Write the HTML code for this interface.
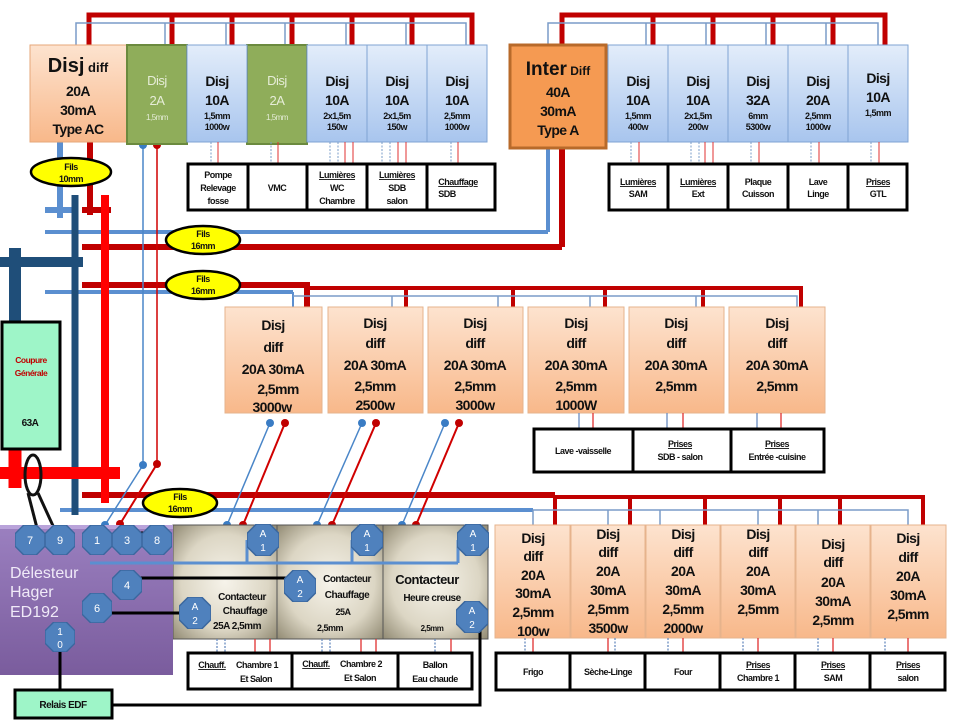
<!DOCTYPE html>
<html><head><meta charset="utf-8"><style>
body{margin:0;background:#fff}
svg{display:block}
text{font-family:"Liberation Sans",sans-serif;font-weight:bold;text-anchor:middle;fill:#111}
.s{font-size:9px;letter-spacing:-0.5px}
.m{font-size:13px;letter-spacing:-0.5px}
.l{font-size:14px;letter-spacing:-0.6px}
</style></head><body>
<svg width="960" height="720" viewBox="0 0 960 720">
<defs>
<linearGradient id="or" x1="0" y1="0" x2="0" y2="1"><stop offset="0" stop-color="#fde3cf"/><stop offset="1" stop-color="#f8b88a"/></linearGradient>
<linearGradient id="bl" x1="0" y1="0" x2="0" y2="1"><stop offset="0" stop-color="#e3edfa"/><stop offset="1" stop-color="#a8c5ee"/></linearGradient>
<linearGradient id="pu" x1="0" y1="0" x2="0" y2="1"><stop offset="0" stop-color="#9b80c0"/><stop offset="1" stop-color="#7a5c9d"/></linearGradient>
<radialGradient id="be" cx="0.5" cy="0.5" r="0.7"><stop offset="0" stop-color="#f6f3ea"/><stop offset="0.6" stop-color="#dcd6c4"/><stop offset="1" stop-color="#928b74"/></radialGradient>
<symbol id="oct" viewBox="-16 -16 32 32"><polygon points="-6.6,-16 6.6,-16 16,-6.6 16,6.6 6.6,16 -6.6,16 -16,6.6 -16,-6.6" fill="#4f81bd" stroke="#3a679e" stroke-width="1.5"/></symbol>
</defs>

<polyline points="89,45 89,15 472,15 472,45" fill="none" stroke="#c00000" stroke-width="5"/>
<g stroke="#c00000" stroke-width="5"><line x1="172" y1="15" x2="172" y2="45"/><line x1="232" y1="15" x2="232" y2="45"/><line x1="292" y1="15" x2="292" y2="45"/><line x1="352" y1="15" x2="352" y2="45"/><line x1="412" y1="15" x2="412" y2="45"/></g>
<polyline points="76,45 76,23 466,23 466,45" fill="none" stroke="#7a9cc8" stroke-width="1.5"/>
<g stroke="#7a9cc8" stroke-width="1.5"><line x1="165" y1="23" x2="165" y2="45"/><line x1="226" y1="23" x2="226" y2="45"/><line x1="285" y1="23" x2="285" y2="45"/><line x1="346" y1="23" x2="346" y2="45"/><line x1="406" y1="23" x2="406" y2="45"/></g>
<polyline points="562,45 562,15 885,15 885,45" fill="none" stroke="#c00000" stroke-width="5"/>
<g stroke="#c00000" stroke-width="5"><line x1="653" y1="15" x2="653" y2="45"/><line x1="713" y1="15" x2="713" y2="45"/><line x1="773" y1="15" x2="773" y2="45"/><line x1="833" y1="15" x2="833" y2="45"/></g>
<polyline points="548,45 548,23 878,23 878,45" fill="none" stroke="#7a9cc8" stroke-width="1.5"/>
<g stroke="#7a9cc8" stroke-width="1.5"><line x1="646" y1="23" x2="646" y2="45"/><line x1="706" y1="23" x2="706" y2="45"/><line x1="766" y1="23" x2="766" y2="45"/><line x1="826" y1="23" x2="826" y2="45"/></g>

<line x1="60" y1="142" x2="60" y2="218" stroke="#5b8fd0" stroke-width="6"/>
<line x1="45" y1="210" x2="76" y2="210" stroke="#5b8fd0" stroke-width="6"/>
<line x1="90" y1="142" x2="90" y2="215" stroke="#c00000" stroke-width="6"/>
<line x1="82" y1="210" x2="111" y2="210" stroke="#c00000" stroke-width="6"/>
<line x1="45" y1="232" x2="548" y2="232" stroke="#5b8fd0" stroke-width="4"/>
<line x1="548" y1="142" x2="548" y2="232" stroke="#5b8fd0" stroke-width="4"/>
<line x1="82" y1="247" x2="562" y2="247" stroke="#c00000" stroke-width="6"/>
<line x1="562" y1="142" x2="562" y2="247" stroke="#c00000" stroke-width="6"/>
<line x1="45" y1="292" x2="293" y2="292" stroke="#5b8fd0" stroke-width="4"/>
<polyline points="82,285 307,285 307,307" fill="none" stroke="#c00000" stroke-width="6"/>
<line x1="293" y1="292" x2="293" y2="307" stroke="#5b8fd0" stroke-width="2"/>
<line x1="60" y1="510" x2="533" y2="510" stroke="#5b8fd0" stroke-width="4"/>
<line x1="82" y1="495" x2="555" y2="495" stroke="#c00000" stroke-width="6"/>
<line x1="75" y1="195" x2="75" y2="515" stroke="#1f4e79" stroke-width="7"/>
<line x1="15" y1="248" x2="15" y2="322" stroke="#1f4e79" stroke-width="12"/>
<line x1="0" y1="262" x2="83" y2="262" stroke="#1f4e79" stroke-width="10"/>
<line x1="105" y1="195" x2="105" y2="503" stroke="#ff0000" stroke-width="8"/>
<line x1="0" y1="473" x2="120" y2="473" stroke="#ff0000" stroke-width="12"/>
<line x1="15" y1="450" x2="15" y2="488" stroke="#ff0000" stroke-width="13"/>
<ellipse cx="33" cy="475" rx="8" ry="20" fill="none" stroke="#111" stroke-width="3"/>
<line x1="28" y1="493" x2="37" y2="528" stroke="#111" stroke-width="3"/>
<line x1="38" y1="493" x2="54" y2="528" stroke="#111" stroke-width="3"/>

<line x1="143" y1="145" x2="143" y2="465" stroke="#4a86c8" stroke-width="1.5"/>
<line x1="157" y1="145" x2="157" y2="464" stroke="#d00000" stroke-width="1.5"/>
<line x1="143" y1="465" x2="105" y2="525" stroke="#4a86c8" stroke-width="1.5"/>
<line x1="157" y1="464" x2="120" y2="524" stroke="#d00000" stroke-width="2"/>
<g><circle cx="143" cy="145" r="4" fill="#3a7cc4"/><circle cx="157" cy="145" r="4" fill="#c00000"/><circle cx="143" cy="465" r="4" fill="#3a7cc4"/><circle cx="157" cy="464" r="4" fill="#c00000"/><circle cx="105" cy="525" r="4" fill="#3a7cc4"/><circle cx="120" cy="524" r="4" fill="#c00000"/></g>

<rect x="30" y="45" width="97" height="97" fill="url(#or)" stroke="#e6a77a"/>
<text x="78" y="72"><tspan font-size="20">Disj</tspan><tspan font-size="13"> diff</tspan></text>
<text x="78" y="96" class="l">20A</text><text x="78" y="115" class="l">30mA</text><text x="78" y="134" class="l">Type AC</text>
<rect x="127" y="45" width="60" height="99" fill="#8fad5a" stroke="#6b8a3e" stroke-width="2"/>
<text x="157" y="85" class="m" style="fill:#e6edd8;font-weight:normal">Disj</text><text x="157" y="105" class="m" style="fill:#e6edd8;font-weight:normal">2A</text><text x="157" y="120" class="s" style="fill:#e6edd8;font-weight:normal;font-size:8px">1,5mm</text>
<rect x="247" y="45" width="60" height="99" fill="#8fad5a" stroke="#6b8a3e" stroke-width="2"/>
<text x="277" y="85" class="m" style="fill:#e6edd8;font-weight:normal">Disj</text><text x="277" y="105" class="m" style="fill:#e6edd8;font-weight:normal">2A</text><text x="277" y="120" class="s" style="fill:#e6edd8;font-weight:normal;font-size:8px">1,5mm</text>
<g stroke="#7fa3d3"><rect x="187" y="45" width="60" height="97" fill="url(#bl)"/><rect x="307" y="45" width="60" height="97" fill="url(#bl)"/><rect x="367" y="45" width="60" height="97" fill="url(#bl)"/><rect x="427" y="45" width="60" height="97" fill="url(#bl)"/></g>
<text x="217" y="86" class="l">Disj</text><text x="217" y="105" class="l">10A</text><text x="217" y="119" class="s">1,5mm</text><text x="217" y="130" class="s">1000w</text>
<text x="337" y="86" class="l">Disj</text><text x="337" y="105" class="l">10A</text><text x="337" y="119" class="s">2x1,5m</text><text x="337" y="130" class="s">150w</text>
<text x="397" y="86" class="l">Disj</text><text x="397" y="105" class="l">10A</text><text x="397" y="119" class="s">2x1,5m</text><text x="397" y="130" class="s">150w</text>
<text x="457" y="86" class="l">Disj</text><text x="457" y="105" class="l">10A</text><text x="457" y="119" class="s">2,5mm</text><text x="457" y="130" class="s">1000w</text>

<rect x="510" y="45" width="96" height="103" fill="#f59a52" stroke="#b86a2a" stroke-width="3"/>
<text x="558" y="75"><tspan font-size="19">Inter</tspan><tspan font-size="12"> Diff</tspan></text>
<text x="558" y="97" class="l">40A</text><text x="558" y="116" class="l">30mA</text><text x="558" y="135" class="l">Type A</text>
<g stroke="#7fa3d3"><rect x="608" y="45" width="60" height="97" fill="url(#bl)"/><rect x="668" y="45" width="60" height="97" fill="url(#bl)"/><rect x="728" y="45" width="60" height="97" fill="url(#bl)"/><rect x="788" y="45" width="60" height="97" fill="url(#bl)"/><rect x="848" y="45" width="60" height="97" fill="url(#bl)"/></g>
<text x="638" y="86" class="l">Disj</text><text x="638" y="105" class="l">10A</text><text x="638" y="119" class="s">1,5mm</text><text x="638" y="130" class="s">400w</text>
<text x="698" y="86" class="l">Disj</text><text x="698" y="105" class="l">10A</text><text x="698" y="119" class="s">2x1,5m</text><text x="698" y="130" class="s">200w</text>
<text x="758" y="86" class="l">Disj</text><text x="758" y="105" class="l">32A</text><text x="758" y="119" class="s">6mm</text><text x="758" y="130" class="s">5300w</text>
<text x="818" y="86" class="l">Disj</text><text x="818" y="105" class="l">20A</text><text x="818" y="119" class="s">2,5mm</text><text x="818" y="130" class="s">1000w</text>
<text x="878" y="83" class="l">Disj</text><text x="878" y="102" class="l">10A</text><text x="878" y="116" class="s">1,5mm</text>

<g stroke="#7a9cc8" stroke-dasharray="2,1.5"><line x1="211" y1="142" x2="211" y2="163"/><line x1="271" y1="142" x2="271" y2="163"/><line x1="330" y1="142" x2="330" y2="163"/><line x1="338" y1="142" x2="338" y2="163"/><line x1="382" y1="142" x2="382" y2="163"/><line x1="390" y1="142" x2="390" y2="163"/><line x1="451" y1="142" x2="451" y2="163"/>
<line x1="631" y1="142" x2="631" y2="163"/><line x1="691" y1="142" x2="691" y2="163"/><line x1="699" y1="142" x2="699" y2="163"/><line x1="751" y1="142" x2="751" y2="163"/><line x1="811" y1="142" x2="811" y2="163"/><line x1="871" y1="142" x2="871" y2="163"/></g>
<g stroke="#e03030"><line x1="218" y1="142" x2="218" y2="163"/><line x1="278" y1="142" x2="278" y2="163"/><line x1="345" y1="142" x2="345" y2="163"/><line x1="353" y1="142" x2="353" y2="163"/><line x1="398" y1="142" x2="398" y2="163"/><line x1="406" y1="142" x2="406" y2="163"/><line x1="458" y1="142" x2="458" y2="163"/>
<line x1="639" y1="142" x2="639" y2="163"/><line x1="705" y1="142" x2="705" y2="163"/><line x1="713" y1="142" x2="713" y2="163"/><line x1="759" y1="142" x2="759" y2="163"/><line x1="819" y1="142" x2="819" y2="163"/><line x1="879" y1="142" x2="879" y2="163"/></g>

<g fill="#fff" stroke="#000" stroke-width="3"><rect x="188" y="164" width="307" height="46"/><rect x="609" y="164" width="298" height="46"/></g>
<g stroke="#000" stroke-width="3"><line x1="248" y1="164" x2="248" y2="210"/><line x1="307" y1="164" x2="307" y2="210"/><line x1="367" y1="164" x2="367" y2="210"/><line x1="427" y1="164" x2="427" y2="210"/>
<line x1="668" y1="164" x2="668" y2="210"/><line x1="728" y1="164" x2="728" y2="210"/><line x1="788" y1="164" x2="788" y2="210"/><line x1="848" y1="164" x2="848" y2="210"/></g>
<g>
<text x="218" y="178" class="s">Pompe</text><text x="218" y="191" class="s">Relevage</text><text x="218" y="204" class="s">fosse</text>
<text x="277" y="191" class="s">VMC</text>
<text x="337" y="178" class="s" text-decoration="underline">Lumières</text><text x="337" y="191" class="s">WC</text><text x="337" y="204" class="s">Chambre</text>
<text x="397" y="178" class="s" text-decoration="underline">Lumières</text><text x="397" y="191" class="s">SDB</text><text x="397" y="204" class="s">salon</text>
<text x="458" y="185" class="s" text-decoration="underline">Chauffage</text><text x="447" y="197" class="s">SDB</text>
<text x="638" y="185" class="s" text-decoration="underline">Lumières</text><text x="638" y="197" class="s">SAM</text>
<text x="698" y="185" class="s" text-decoration="underline">Lumières</text><text x="698" y="197" class="s">Ext</text>
<text x="758" y="185" class="s">Plaque</text><text x="758" y="197" class="s">Cuisson</text>
<text x="818" y="185" class="s">Lave</text><text x="818" y="197" class="s">Linge</text>
<text x="878" y="185" class="s" text-decoration="underline">Prises</text><text x="878" y="197" class="s">GTL</text>
</g>

<polyline points="307,288 801,288 801,307" fill="none" stroke="#c00000" stroke-width="4"/>
<g stroke="#c00000" stroke-width="4"><line x1="406" y1="288" x2="406" y2="307"/><line x1="513" y1="288" x2="513" y2="307"/><line x1="605" y1="288" x2="605" y2="307"/><line x1="703" y1="288" x2="703" y2="307"/></g>
<polyline points="293,296 797,296 797,307" fill="none" stroke="#7a9cc8" stroke-width="1.5"/>
<g stroke="#7a9cc8" stroke-width="1.5"><line x1="392" y1="296" x2="392" y2="307"/><line x1="498" y1="296" x2="498" y2="307"/><line x1="590" y1="296" x2="590" y2="307"/><line x1="696" y1="296" x2="696" y2="307"/></g>
<g fill="url(#or)" stroke="#e6b38c"><rect x="225" y="307" width="97" height="106"/><rect x="328" y="307" width="95" height="106"/><rect x="428" y="307" width="95" height="106"/><rect x="528" y="307" width="96" height="106"/><rect x="629" y="307" width="95" height="106"/><rect x="729" y="307" width="96" height="106"/></g>
<g>
<text x="273" y="330" class="l">Disj</text><text x="273" y="352" class="l">diff</text><text x="273" y="374" class="l">20A  30mA</text><text x="278" y="394" class="l">2,5mm</text><text x="272" y="412" class="l">3000w</text>
<text x="375" y="328" class="l">Disj</text><text x="375" y="348" class="l">diff</text><text x="375" y="370" class="l">20A  30mA</text><text x="375" y="391" class="l">2,5mm</text><text x="375" y="410" class="l">2500w</text>
<text x="475" y="328" class="l">Disj</text><text x="475" y="348" class="l">diff</text><text x="475" y="370" class="l">20A 30mA</text><text x="475" y="391" class="l">2,5mm</text><text x="475" y="410" class="l">3000w</text>
<text x="576" y="328" class="l">Disj</text><text x="576" y="348" class="l">diff</text><text x="576" y="370" class="l">20A 30mA</text><text x="576" y="391" class="l">2,5mm</text><text x="576" y="410" class="l">1000W</text>
<text x="676" y="328" class="l">Disj</text><text x="676" y="348" class="l">diff</text><text x="676" y="370" class="l">20A  30mA</text><text x="676" y="391" class="l">2,5mm</text>
<text x="777" y="328" class="l">Disj</text><text x="777" y="348" class="l">diff</text><text x="777" y="370" class="l">20A  30mA</text><text x="777" y="391" class="l">2,5mm</text>
</g>
<g stroke="#4a86c8" stroke-width="1.5"><line x1="270" y1="423" x2="227" y2="525"/><line x1="362" y1="423" x2="317" y2="525"/><line x1="445" y1="423" x2="402" y2="525"/></g>
<g stroke="#d00000" stroke-width="2"><line x1="285" y1="423" x2="243" y2="525"/><line x1="376" y1="423" x2="332" y2="525"/><line x1="459" y1="423" x2="416" y2="525"/></g>
<g fill="#3a7cc4"><circle cx="270" cy="423" r="4"/><circle cx="362" cy="423" r="4"/><circle cx="445" cy="423" r="4"/><circle cx="227" cy="525" r="4"/><circle cx="317" cy="525" r="4"/><circle cx="402" cy="525" r="4"/></g>
<g fill="#c00000"><circle cx="285" cy="423" r="4"/><circle cx="376" cy="423" r="4"/><circle cx="459" cy="423" r="4"/><circle cx="243" cy="525" r="4"/><circle cx="332" cy="525" r="4"/><circle cx="416" cy="525" r="4"/></g>
<g stroke="#6a8cc0" stroke-width="1.3"><line x1="579" y1="413" x2="579" y2="429"/><line x1="667" y1="413" x2="667" y2="429"/><line x1="757" y1="413" x2="757" y2="429"/></g>
<g stroke="#e03030" stroke-width="1.3"><line x1="593" y1="413" x2="593" y2="429"/><line x1="683" y1="413" x2="683" y2="429"/><line x1="781" y1="413" x2="781" y2="429"/></g>
<rect x="534" y="429" width="290" height="43" fill="#fff" stroke="#000" stroke-width="3"/>
<g stroke="#000" stroke-width="3"><line x1="633" y1="429" x2="633" y2="472"/><line x1="731" y1="429" x2="731" y2="472"/></g>
<text x="583" y="454" class="s">Lave -vaisselle</text>
<text x="680" y="447" class="s" text-decoration="underline">Prises</text><text x="680" y="460" class="s">SDB  - salon</text>
<text x="777" y="447" class="s" text-decoration="underline">Prises</text><text x="777" y="460" class="s">Entrée -cuisine</text>

<polyline points="555,497 923,497 923,525" fill="none" stroke="#c00000" stroke-width="4"/>
<line x1="555" y1="495" x2="555" y2="525" stroke="#c00000" stroke-width="4"/>
<g stroke="#c00000" stroke-width="4"><line x1="630" y1="497" x2="630" y2="525"/><line x1="705" y1="497" x2="705" y2="525"/><line x1="780" y1="497" x2="780" y2="525"/><line x1="840" y1="497" x2="840" y2="525"/></g>
<polyline points="533,510 908,510 908,525" fill="none" stroke="#7a9cc8" stroke-width="1.5"/>
<g stroke="#7a9cc8" stroke-width="1.5"><line x1="533" y1="510" x2="533" y2="525"/><line x1="608" y1="510" x2="608" y2="525"/><line x1="660" y1="510" x2="660" y2="525"/><line x1="758" y1="510" x2="758" y2="525"/><line x1="818" y1="510" x2="818" y2="525"/></g>
<g fill="url(#or)" stroke="#e6b38c"><rect x="495" y="525" width="75" height="113"/><rect x="571" y="525" width="74" height="113"/><rect x="646" y="525" width="74" height="113"/><rect x="721" y="525" width="74" height="113"/><rect x="796" y="525" width="74" height="113"/><rect x="871" y="525" width="75" height="113"/></g>
<g>
<text x="533" y="543" class="l">Disj</text><text x="533" y="561" class="l">diff</text><text x="533" y="580" class="l">20A</text><text x="533" y="598" class="l">30mA</text><text x="533" y="617" class="l">2,5mm</text><text x="533" y="636" class="l">100w</text>
<text x="608" y="539" class="l">Disj</text><text x="608" y="557" class="l">diff</text><text x="608" y="576" class="l">20A</text><text x="608" y="595" class="l">30mA</text><text x="608" y="614" class="l">2,5mm</text><text x="608" y="633" class="l">3500w</text>
<text x="683" y="539" class="l">Disj</text><text x="683" y="557" class="l">diff</text><text x="683" y="576" class="l">20A</text><text x="683" y="595" class="l">30mA</text><text x="683" y="614" class="l">2,5mm</text><text x="683" y="633" class="l">2000w</text>
<text x="758" y="539" class="l">Disj</text><text x="758" y="557" class="l">diff</text><text x="758" y="576" class="l">20A</text><text x="758" y="595" class="l">30mA</text><text x="758" y="614" class="l">2,5mm</text>
<text x="833" y="549" class="l">Disj</text><text x="833" y="567" class="l">diff</text><text x="833" y="587" class="l">20A</text><text x="833" y="606" class="l">30mA</text><text x="833" y="625" class="l">2,5mm</text>
<text x="908" y="543" class="l">Disj</text><text x="908" y="562" class="l">diff</text><text x="908" y="581" class="l">20A</text><text x="908" y="600" class="l">30mA</text><text x="908" y="619" class="l">2,5mm</text>
</g>
<g stroke="#6a8cc0" stroke-width="1.3" stroke-dasharray="2,1.5"><line x1="525" y1="638" x2="525" y2="653"/><line x1="615" y1="638" x2="615" y2="653"/><line x1="668" y1="638" x2="668" y2="653"/><line x1="743" y1="638" x2="743" y2="653"/><line x1="818" y1="638" x2="818" y2="653"/><line x1="885" y1="638" x2="885" y2="653"/></g>
<g stroke="#e03030" stroke-width="1.3"><line x1="533" y1="638" x2="533" y2="653"/><line x1="608" y1="638" x2="608" y2="653"/><line x1="683" y1="638" x2="683" y2="653"/><line x1="758" y1="638" x2="758" y2="653"/><line x1="833" y1="638" x2="833" y2="653"/><line x1="908" y1="638" x2="908" y2="653"/></g>
<rect x="496" y="653" width="449" height="37" fill="#fff" stroke="#000" stroke-width="3"/>
<g stroke="#000" stroke-width="3"><line x1="570" y1="653" x2="570" y2="690"/><line x1="645" y1="653" x2="645" y2="690"/><line x1="720" y1="653" x2="720" y2="690"/><line x1="795" y1="653" x2="795" y2="690"/><line x1="870" y1="653" x2="870" y2="690"/></g>
<text x="533" y="675" class="s">Frigo</text><text x="608" y="675" class="s">Sèche-Linge</text><text x="683" y="675" class="s">Four</text>
<text x="758" y="668" class="s" text-decoration="underline">Prises</text><text x="758" y="681" class="s">Chambre 1</text>
<text x="833" y="668" class="s" text-decoration="underline">Prises</text><text x="833" y="681" class="s">SAM</text>
<text x="908" y="668" class="s" text-decoration="underline">Prises</text><text x="908" y="681" class="s">salon</text>

<g fill="url(#be)" stroke="#555"><rect x="173" y="525" width="104" height="114"/><rect x="277" y="525" width="106" height="114"/><rect x="383" y="525" width="105" height="114"/></g>
<text x="242" y="600" class="s" style="font-size:10px">Contacteur</text><text x="245" y="614" class="s" style="font-size:10px">Chauffage</text><text x="237" y="629" class="s" style="font-size:10px">25A 2,5mm</text>
<text x="347" y="582" class="s" style="font-size:10px">Contacteur</text><text x="347" y="598" class="s" style="font-size:10px">Chauffage</text><text x="343" y="615" class="s" style="font-size:9px">25A</text><text x="330" y="631" class="s" style="font-size:9px">2,5mm</text>
<text x="427" y="584" style="font-size:13px;letter-spacing:-0.5px">Contacteur</text><text x="432" y="601" class="s" style="font-size:10px">Heure creuse</text><text x="432" y="631" class="s" style="font-size:8px">2,5mm</text>
<g stroke="#6a8cc0" stroke-width="1.3" stroke-dasharray="2,1.5"><line x1="217" y1="639" x2="217" y2="653"/><line x1="225" y1="639" x2="225" y2="653"/><line x1="322" y1="639" x2="322" y2="653"/><line x1="330" y1="639" x2="330" y2="653"/><line x1="435" y1="639" x2="435" y2="653"/></g>
<g stroke="#e03030" stroke-width="1.3"><line x1="255" y1="639" x2="255" y2="653"/><line x1="270" y1="639" x2="270" y2="653"/><line x1="361" y1="639" x2="361" y2="653"/><line x1="376" y1="639" x2="376" y2="653"/><line x1="451" y1="639" x2="451" y2="653"/></g>
<rect x="188" y="653" width="284" height="36" fill="#fff" stroke="#000" stroke-width="3"/>
<g stroke="#000" stroke-width="3"><line x1="292" y1="653" x2="292" y2="689"/><line x1="398" y1="653" x2="398" y2="689"/></g>
<text x="212" y="668" class="s" text-decoration="underline">Chauff.</text><text x="257" y="668" class="s">Chambre 1</text><text x="256" y="682" class="s">Et Salon</text>
<text x="316" y="667" class="s" text-decoration="underline">Chauff.</text><text x="361" y="667" class="s">Chambre 2</text><text x="360" y="681" class="s">Et Salon</text>
<text x="435" y="668" class="s">Ballon</text><text x="435" y="682" class="s">Eau chaude</text>

<rect x="0" y="525" width="173" height="150" fill="url(#pu)"/>
<rect x="0" y="525" width="173" height="4" fill="#b9a3da"/>
<text x="10" y="578" style="font-weight:normal;font-size:16px;fill:#f0eaf8;text-anchor:start">Délesteur</text>
<text x="10" y="597" style="font-weight:normal;font-size:16px;fill:#f0eaf8;text-anchor:start">Hager</text>
<text x="10" y="617" style="font-weight:normal;font-size:16px;fill:#f0eaf8;text-anchor:start">ED192</text>
<polyline points="90,563 458,563" fill="none" stroke="#5b8fd0" stroke-width="3"/>
<g stroke="#5b8fd0" stroke-width="3"><line x1="247" y1="563" x2="247" y2="540"/><line x1="352" y1="563" x2="352" y2="540"/><line x1="458" y1="563" x2="458" y2="540"/></g>
<line x1="127" y1="578" x2="300" y2="578" stroke="#000" stroke-width="3"/>
<line x1="97" y1="613" x2="193" y2="613" stroke="#000" stroke-width="3"/>
<line x1="60" y1="640" x2="60" y2="690" stroke="#000" stroke-width="3"/>
<polyline points="112,705 480,705 480,617" fill="none" stroke="#000" stroke-width="3"/>
<line x1="135" y1="533" x2="150" y2="533" stroke="#000" stroke-width="3"/>
<g>
<use href="#oct" x="15" y="525" width="30" height="30"/><text x="30" y="544" style="fill:#fff;font-weight:normal;font-size:11px">7</text>
<use href="#oct" x="45" y="525" width="30" height="30"/><text x="60" y="544" style="fill:#fff;font-weight:normal;font-size:11px">9</text>
<use href="#oct" x="82" y="525" width="30" height="30"/><text x="97" y="544" style="fill:#fff;font-weight:normal;font-size:11px">1</text>
<use href="#oct" x="112" y="525" width="30" height="30"/><text x="127" y="544" style="fill:#fff;font-weight:normal;font-size:11px">3</text>
<use href="#oct" x="142" y="525" width="30" height="30"/><text x="157" y="544" style="fill:#fff;font-weight:normal;font-size:11px">8</text>
<use href="#oct" x="112" y="570" width="30" height="30"/><text x="127" y="589" style="fill:#fff;font-weight:normal;font-size:11px">4</text>
<use href="#oct" x="82" y="593" width="30" height="30"/><text x="97" y="612" style="fill:#fff;font-weight:normal;font-size:11px">6</text>
<use href="#oct" x="45" y="622" width="30" height="30"/><text x="60" y="635" style="fill:#fff;font-weight:normal;font-size:10px">1</text><text x="60" y="648" style="fill:#fff;font-weight:normal;font-size:10px">0</text>
</g>
<g>
<use href="#oct" x="247" y="524" width="32" height="32"/><text x="263" y="537" style="fill:#fff;font-weight:normal;font-size:10px">A</text><text x="263" y="551" style="fill:#fff;font-weight:normal;font-size:10px">1</text>
<use href="#oct" x="351" y="524" width="32" height="32"/><text x="367" y="537" style="fill:#fff;font-weight:normal;font-size:10px">A</text><text x="367" y="551" style="fill:#fff;font-weight:normal;font-size:10px">1</text>
<use href="#oct" x="457" y="524" width="32" height="32"/><text x="473" y="537" style="fill:#fff;font-weight:normal;font-size:10px">A</text><text x="473" y="551" style="fill:#fff;font-weight:normal;font-size:10px">1</text>
<use href="#oct" x="179" y="597" width="32" height="32"/><text x="195" y="610" style="fill:#fff;font-weight:normal;font-size:10px">A</text><text x="195" y="624" style="fill:#fff;font-weight:normal;font-size:10px">2</text>
<use href="#oct" x="284" y="570" width="32" height="32"/><text x="300" y="583" style="fill:#fff;font-weight:normal;font-size:10px">A</text><text x="300" y="597" style="fill:#fff;font-weight:normal;font-size:10px">2</text>
<use href="#oct" x="456" y="601" width="32" height="32"/><text x="472" y="614" style="fill:#fff;font-weight:normal;font-size:10px">A</text><text x="472" y="628" style="fill:#fff;font-weight:normal;font-size:10px">2</text>
</g>

<rect x="2" y="322" width="58" height="127" fill="#9ef5c8" stroke="#000" stroke-width="3"/>
<text x="31" y="363" class="s" style="fill:#c00000;font-size:8.5px">Coupure</text>
<text x="31" y="376" class="s" style="fill:#c00000;font-size:8.5px">Générale</text>
<text x="30" y="426" class="s" style="font-size:10px">63A</text>
<rect x="15" y="690" width="97" height="28" fill="#9ef5c8" stroke="#000" stroke-width="3"/>
<text x="63" y="708" class="s" style="font-size:10px">Relais EDF</text>

<g fill="#ffff00" stroke="#000" stroke-width="2.5">
<ellipse cx="71" cy="172" rx="40" ry="14"/><ellipse cx="203" cy="240" rx="37" ry="14"/><ellipse cx="203" cy="285" rx="37" ry="14"/><ellipse cx="180" cy="503" rx="37" ry="14"/></g>
<g>
<text x="71" y="170" class="s">Fils</text><text x="71" y="182" class="s">10mm</text>
<text x="203" y="237" class="s">Fils</text><text x="203" y="249" class="s">16mm</text>
<text x="203" y="282" class="s">Fils</text><text x="203" y="294" class="s">16mm</text>
<text x="180" y="500" class="s">Fils</text><text x="180" y="512" class="s">16mm</text>
</g>
</svg>
</body></html>
